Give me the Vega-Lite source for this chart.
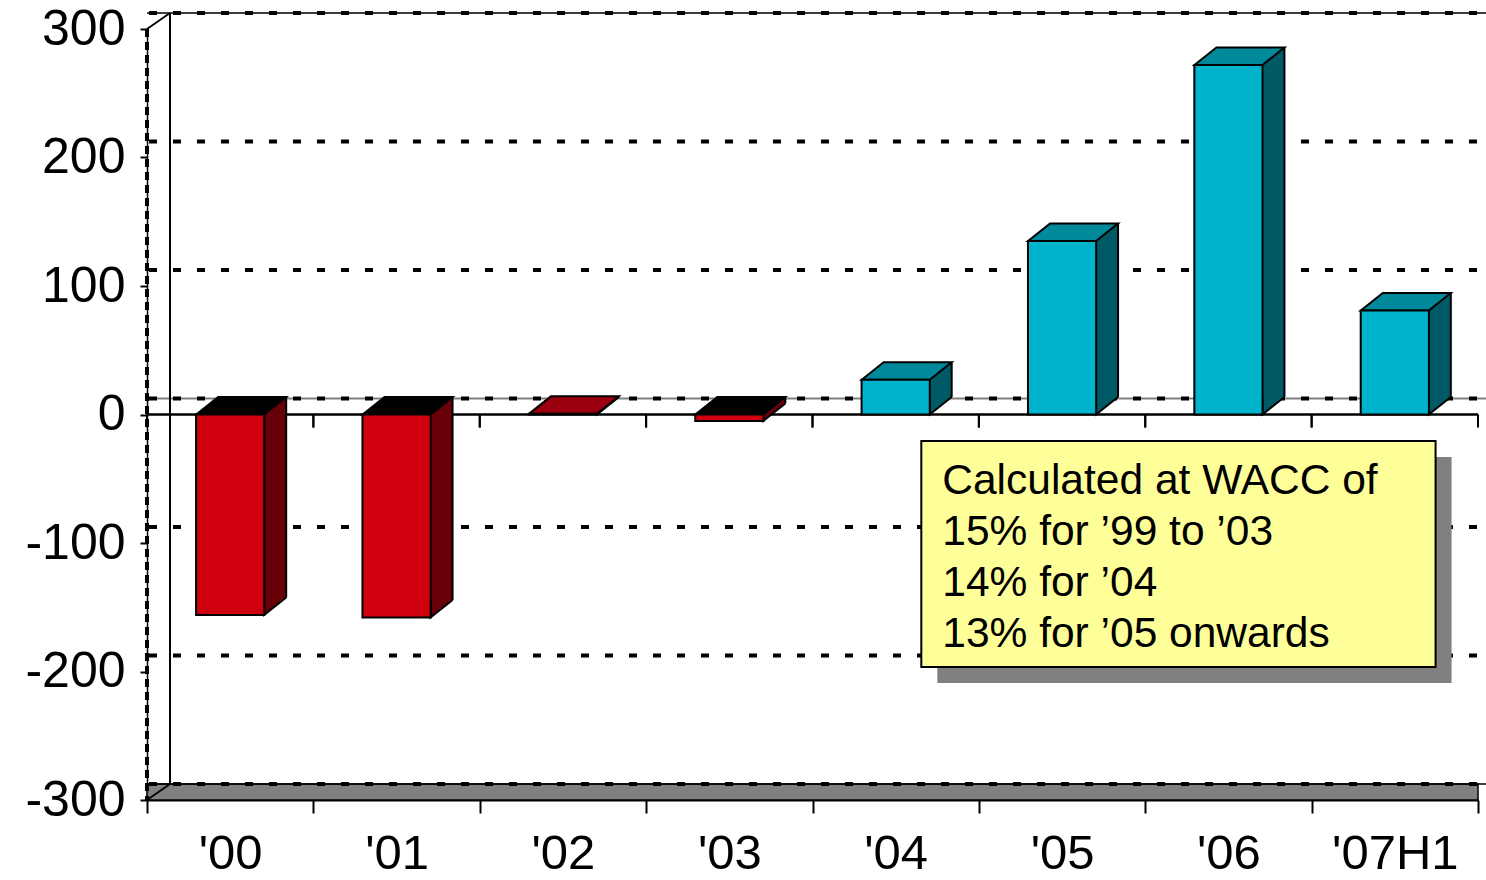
{
  "$schema": "https://vega.github.io/schema/vega-lite/v6.json",
  "width": 1331,
  "height": 771,
  "autosize": {"type": "none"},
  "padding": {"left": 147, "top": 29, "right": 8, "bottom": 80},
  "background": "white",
  "config": {"view": {"stroke": null}, "font": "Liberation Sans"},
  "datasets": {
    "eva": [
      {"year": "'00", "value": -156},
      {"year": "'01", "value": -158},
      {"year": "'02", "value": 0.5},
      {"year": "'03", "value": -5},
      {"year": "'04", "value": 27},
      {"year": "'05", "value": 135},
      {"year": "'06", "value": 272},
      {"year": "'07H1", "value": 81}
    ],
    "grid": [
      {"level": -300}, {"level": -200}, {"level": -100}, {"level": 0},
      {"level": 100}, {"level": 200}, {"level": 300}
    ],
    "note": [
      {"lines": ["Calculated at WACC of", "15% for ’99 to ’03", "14% for ’04", "13% for ’05 onwards"]}
    ]
  },
  "data": {"name": "eva"},
  "layer": [
    {
      "mark": {"type": "bar", "width": {"band": 0.41}, "stroke": "black", "strokeWidth": 2, "opacity": 0},
      "encoding": {
        "x": {
          "field": "year", "type": "nominal", "sort": null,
          "scale": {"domain": ["'00", "'01", "'02", "'03", "'04", "'05", "'06", "'07H1"], "paddingInner": 0, "paddingOuter": 0},
          "axis": {
            "title": null, "labelAngle": 0, "labelFontSize": 49, "labelFont": "Liberation Sans", "labelColor": "black",
            "tickBand": "extent", "tickSize": 13, "tickWidth": 2, "tickColor": "black",
            "labelPadding": 16, "domainColor": "black", "domainWidth": 2
          }
        },
        "y": {
          "field": "value", "type": "quantitative",
          "scale": {"domain": [-300, 300], "nice": false, "zero": false},
          "axis": {
            "title": null, "values": [-300, -200, -100, 0, 100, 200, 300], "grid": false,
            "labelExpr": "replace(datum.label, '\u2212', '-')",
            "labelFontSize": 50, "labelFont": "Liberation Sans", "labelColor": "black",
            "tickSize": 7, "tickWidth": 2, "tickColor": "black", "labelPadding": 15,
            "domainColor": "black", "domainWidth": 1.5
          }
        },
        "y2": {"datum": 0}
      }
    },
    {
      "data": {"name": "grid"},
      "transform": [{"filter": "datum.level == -300"}],
      "mark": {"type": "rect", "fill": "#808080", "stroke": "black", "strokeWidth": 1.5, "yOffset": -16, "x2Offset": 10},
      "encoding": {
        "y": {"field": "level", "type": "quantitative"},
        "y2": {"field": "level"}
      }
    },
    {
      "data": {"name": "grid"},
      "transform": [{"filter": "datum.level == 300 || datum.level == -300"}],
      "mark": {"type": "rule", "color": "black", "strokeWidth": 1.5, "yOffset": -16, "xOffset": 23, "x2Offset": 23},
      "encoding": {"y": {"field": "level", "type": "quantitative"}}
    },
    {
      "data": {"name": "grid"},
      "transform": [{"filter": "datum.level == 0"}],
      "mark": {"type": "rule", "color": "#808080", "strokeWidth": 2, "yOffset": -16, "xOffset": 23, "x2Offset": 23},
      "encoding": {"y": {"field": "level", "type": "quantitative"}}
    },
    {
      "data": {"name": "grid"},
      "mark": {"type": "rule", "color": "black", "strokeWidth": 4, "strokeDash": [8, 16], "yOffset": -16, "xOffset": 23, "x2Offset": 23},
      "encoding": {"y": {"field": "level", "type": "quantitative"}}
    },
    {
      "data": {"values": [{}]},
      "mark": {"type": "rule", "color": "black", "strokeWidth": 2, "xOffset": 23, "yOffset": -16, "y2Offset": -16},
      "encoding": {
        "x": {"datum": "'00", "type": "nominal", "bandPosition": 0},
        "y": {"datum": 300, "type": "quantitative"},
        "y2": {"datum": -300}
      }
    },
    {
      "data": {"values": [{}]},
      "mark": {"type": "rule", "color": "black", "strokeWidth": 2, "x2Offset": 23, "y2Offset": -16},
      "encoding": {
        "x": {"datum": "'00", "type": "nominal", "bandPosition": 0},
        "x2": {"datum": "'00", "bandPosition": 0},
        "y": {"datum": 300, "type": "quantitative"},
        "y2": {"datum": 300}
      }
    },
    {
      "data": {"values": [{}]},
      "mark": {"type": "rule", "color": "black", "strokeWidth": 2, "x2Offset": 23, "y2Offset": -16},
      "encoding": {
        "x": {"datum": "'00", "type": "nominal", "bandPosition": 0},
        "x2": {"datum": "'00", "bandPosition": 0},
        "y": {"datum": -300, "type": "quantitative"},
        "y2": {"datum": -300}
      }
    },
    {
      "data": {"values": [{}]},
      "mark": {"type": "rule", "color": "black", "strokeWidth": 4, "strokeDash": [8, 5]},
      "encoding": {
        "x": {"datum": "'00", "type": "nominal", "bandPosition": 0},
        "y": {"datum": 300, "type": "quantitative"},
        "y2": {"datum": -300}
      }
    },
    {
      "data": {"values": [{}]},
      "mark": {"type": "rule", "color": "black", "strokeWidth": 2.5},
      "encoding": {"y": {"datum": 0, "type": "quantitative"}}
    },
    {
      "mark": {"type": "rule", "color": "black", "strokeWidth": 2, "y2Offset": 13},
      "encoding": {
        "x": {"field": "year", "type": "nominal", "bandPosition": 0},
        "y": {"datum": 0, "type": "quantitative"},
        "y2": {"datum": 0}
      }
    },
    {
      "mark": {"type": "rule", "color": "black", "strokeWidth": 2, "y2Offset": 13},
      "encoding": {
        "x": {"field": "year", "type": "nominal", "bandPosition": 1},
        "y": {"datum": 0, "type": "quantitative"},
        "y2": {"datum": 0}
      }
    },
    {
      "transform": [{"filter": "datum.value > 0"}],
      "mark": {"type": "bar", "width": 22, "xOffset": 45, "yOffset": -17.5, "y2Offset": -16.5},
      "encoding": {
        "x": {"field": "year", "type": "nominal"},
        "y": {"field": "value", "type": "quantitative"},
        "y2": {"datum": 0},
        "fill": {"condition": {"test": "datum.value >= 10", "value": "#005A66"}, "value": "#68000A"}
      }
    },
    {
      "transform": [{"filter": "datum.value < 0"}],
      "mark": {"type": "bar", "width": 22, "xOffset": 45, "yOffset": -16.5, "y2Offset": -17.5},
      "encoding": {
        "x": {"field": "year", "type": "nominal"},
        "y": {"field": "value", "type": "quantitative"},
        "y2": {"datum": 0},
        "fill": {"value": "#68000A"}
      }
    },
    {
      "transform": [{"filter": "datum.value > 0"}],
      "mark": {"type": "point", "shape": "M34,-17.5L34,0L56,-17.5", "size": 4, "filled": true, "opacity": 1, "stroke": "black", "strokeWidth": 2},
      "encoding": {
        "x": {"field": "year", "type": "nominal"},
        "y": {"datum": 0, "type": "quantitative"},
        "fill": {"condition": {"test": "datum.value >= 10", "value": "#005A66"}, "value": "#68000A"}
      }
    },
    {
      "transform": [{"filter": "datum.value < 0"}],
      "mark": {"type": "point", "shape": "M34,-17.5L34,0L56,-17.5", "size": 4, "filled": true, "opacity": 1, "stroke": "black", "strokeWidth": 2},
      "encoding": {
        "x": {"field": "year", "type": "nominal"},
        "y": {"field": "value", "type": "quantitative"},
        "fill": {"value": "#68000A"}
      }
    },
    {
      "mark": {"type": "rule", "color": "black", "strokeWidth": 2, "xOffset": 56, "yOffset": -17.5, "y2Offset": -17.5},
      "encoding": {
        "x": {"field": "year", "type": "nominal", "bandPosition": 0.5},
        "y": {"field": "value", "type": "quantitative"},
        "y2": {"datum": 0}
      }
    },
    {
      "transform": [{"filter": "datum.value > 0"}],
      "mark": {"type": "point", "shape": "M-34,0L-12,-17.5L56,-17.5L34,0Z", "size": 4, "filled": true, "opacity": 1, "stroke": "black", "strokeWidth": 2},
      "encoding": {
        "x": {"field": "year", "type": "nominal"},
        "y": {"field": "value", "type": "quantitative"},
        "fill": {"condition": {"test": "datum.value >= 10", "value": "#00889B"}, "value": "#9C0010"}
      }
    },
    {
      "transform": [{"filter": "datum.value < 0"}],
      "mark": {"type": "point", "shape": "M-34,0L-12,-17.5L56,-17.5L34,0Z", "size": 4, "filled": true, "opacity": 1, "stroke": "black", "strokeWidth": 2},
      "encoding": {
        "x": {"field": "year", "type": "nominal"},
        "y": {"datum": 0, "type": "quantitative"},
        "fill": {"value": "black"}
      }
    },
    {
      "mark": {"type": "bar", "width": {"band": 0.41}, "stroke": "black", "strokeWidth": 2},
      "encoding": {
        "x": {"field": "year", "type": "nominal"},
        "y": {"field": "value", "type": "quantitative"},
        "y2": {"datum": 0},
        "fill": {"condition": {"test": "datum.value >= 10", "value": "#00B3CC"}, "value": "#D1000F"}
      }
    },
    {
      "data": {"name": "note"},
      "mark": {"type": "rect", "fill": "#808080", "xOffset": 16, "x2Offset": 16, "yOffset": 16, "y2Offset": 16},
      "encoding": {
        "x": {"datum": "'04", "type": "nominal", "bandPosition": 0.654},
        "x2": {"datum": "'07H1", "bandPosition": 0.745},
        "y": {"datum": -20.6, "type": "quantitative"},
        "y2": {"datum": -196.5}
      }
    },
    {
      "data": {"name": "note"},
      "mark": {"type": "rect", "fill": "#FFFF99", "stroke": "black", "strokeWidth": 2},
      "encoding": {
        "x": {"datum": "'04", "type": "nominal", "bandPosition": 0.654},
        "x2": {"datum": "'07H1", "bandPosition": 0.745},
        "y": {"datum": -20.6, "type": "quantitative"},
        "y2": {"datum": -196.5}
      }
    },
    {
      "data": {"name": "note"},
      "mark": {"type": "text", "align": "left", "baseline": "alphabetic", "fontSize": 42.5, "lineHeight": 51, "font": "Liberation Sans", "color": "black"},
      "encoding": {
        "x": {"datum": "'04", "type": "nominal", "bandPosition": 0.78},
        "y": {"datum": -61.9, "type": "quantitative"},
        "text": {"field": "lines"}
      }
    }
  ]
}
